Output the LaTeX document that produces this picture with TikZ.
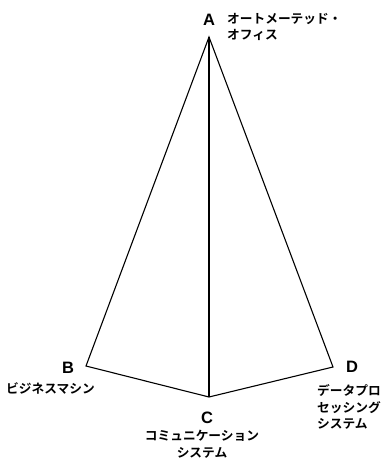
\documentclass[tikz,border=0pt]{standalone}
\usepackage{fontspec}
\newfontfamily\jpfont{Noto Sans CJK JP}[BoldFont={* Bold}]
\newfontfamily\lettfont{Liberation Sans}
\begin{document}
\begin{tikzpicture}[x=1pt,y=-1pt,
  edge/.style={line width=1.1pt, line join=miter},
  vlabel/.style={font=\lettfont\bfseries\fontsize{16.5}{16.5}\selectfont, inner sep=0pt},
  jlabel/.style={font=\jpfont\bfseries\fontsize{12.7}{16.8}\selectfont, inner sep=0pt}]
\useasboundingbox (0,0) rectangle (384,458);
\coordinate (A) at (209,37);
\coordinate (B) at (86,366);
\coordinate (C) at (209,397);
\coordinate (D) at (333,367);
\draw[edge] (A) -- (B) -- (C) -- (D) -- cycle;
\draw[edge] (A) -- (C);
\node[vlabel] (lA) at (209,20) {A};
\node[vlabel] (lB) at (68,368) {B};
\node[vlabel] (lC) at (207,418) {C};
\node[vlabel] (lD) at (352,367) {D};
\node[jlabel, align=left, anchor=west] (tA) at (227,27) {オートメーテッド・\\オフィス};
\node[jlabel, anchor=west] (tB) at (6,388) {ビジネスマシン};
\node[jlabel, align=center] (tC) at (202,444) {コミュニケーション\\システム};
\node[jlabel, align=left, anchor=west] (tD) at (317,407) {データプロ\\セッシング\\システム};
\end{tikzpicture}
\end{document}
